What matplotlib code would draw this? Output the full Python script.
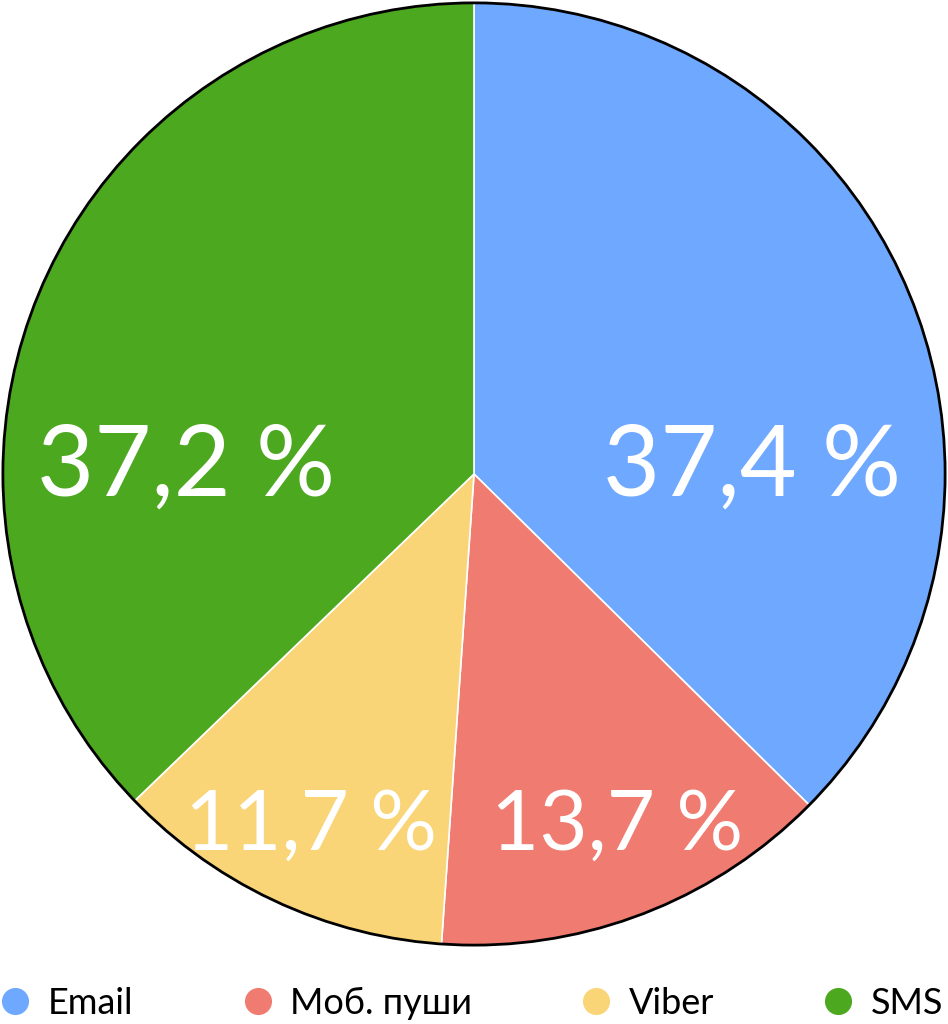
import matplotlib
matplotlib.use("Agg")
import matplotlib.pyplot as plt
from matplotlib.lines import Line2D
from matplotlib.patches import Circle

# data
labels = ["Email", "Моб. пуши", "Viber", "SMS"]
shares = [37.4, 13.7, 11.7, 37.2]
pct_text = ["37,4 %", "13,7 %", "11,7 %", "37,2 %"]
colors = ["#6FA8FF", "#F07B70", "#F9D577", "#4CA81E"]

# label baselines inside the wedges (fraction of radius) and sizes
label_xy = [(0.591, -0.046), (0.303, -0.797), (-0.345, -0.797), (-0.612, -0.046)]
label_size = [71, 60, 60, 71]

plt.rcParams["font.family"] = ["Lato", "DejaVu Sans"]

fig = plt.figure(figsize=(9.48, 10.24), dpi=100)
ax = fig.add_axes([1 / 948, (1024 - 947) / 1024, 946 / 948, 946 / 1024])

wedges, _ = ax.pie(shares, colors=colors, startangle=90, counterclock=False,
                   radius=1, wedgeprops=dict(edgecolor="white", linewidth=1.2))
ax.add_patch(Circle((0, 0), 1, fill=False, edgecolor="black", linewidth=2, zorder=5))

for (x, y), t, fs in zip(label_xy, pct_text, label_size):
    ax.text(x, y, t, color="white", fontsize=fs, ha="center", va="baseline")

ax.set_xlim(-1.004, 1.004)
ax.set_ylim(-1.004, 1.004)
ax.set_aspect("equal")
ax.axis("off")

handles = [Line2D([], [], marker="o", linestyle="none", markersize=19.5,
                  markerfacecolor=c, markeredgecolor="none") for c in colors]
fig.legend(handles, labels, loc="center left", ncol=4, mode="expand",
           bbox_to_anchor=(0.001, 0.0, 0.994, 0.041), frameon=False,
           fontsize=26, handlelength=0.8, handletextpad=0.5, borderaxespad=0,
           borderpad=0)

fig.savefig("out.png", dpi=100)
